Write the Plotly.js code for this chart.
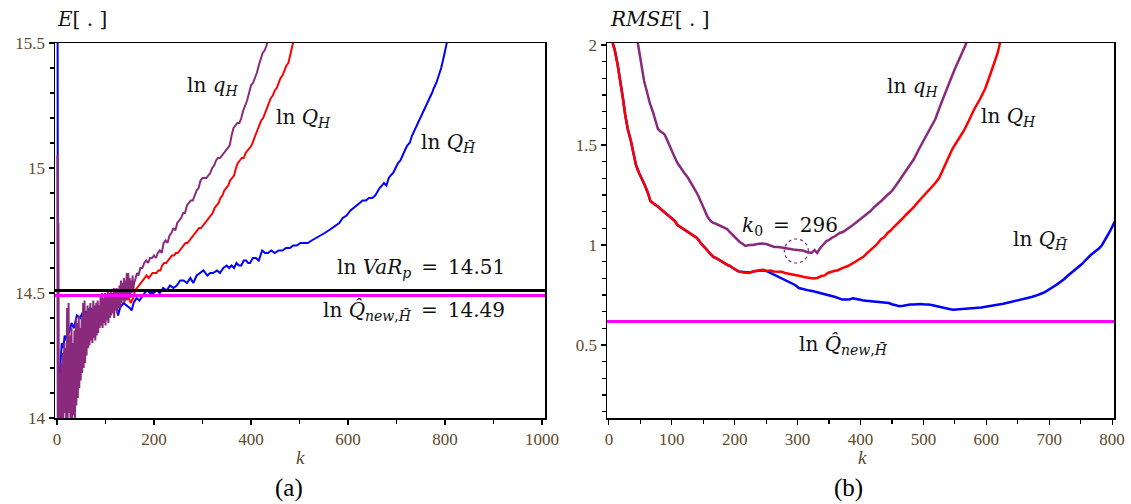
<!DOCTYPE html>
<html>
<head>
<meta charset="utf-8">
<script src="https://cdn.plot.ly/plotly-3.0.1.min.js"></script>
<style>html,body{margin:0;padding:0;background:#fff;}#chart{width:1131px;height:504px;}</style>
</head>
<body>
<div id="chart"></div>
<script>
// ---------- Panel (a): E[.] versus k ----------
const kA_Qbar = [1,2,4,7,10,13,16,19,22,25,30,35,41,48,55,61,68,75,82,90,97,103,110,117,123,126,130,137,144,150,154,158,164,170,177,185,192,199,206,212,219,226,233,240,247,254,261,268,275,281,288,295,302,310,316,322,330,336,343,350,355,360,365,370,375,380,385,390,394,398,404,410,416,423,429,435,442,449,457,465,472,480,487,494,502,510,517,525,535,545,552,560,567,575,582,589,597,605,612,618,624,630,637,643,650,656,661,665,670,674,679,684,688,693,698,703,708,712,717,722,727,732,737,742,747,752,757,762,767,773,777,782,787,792,798,803,810];
const eA_Qbar = [16.5,13.9,14.12,14.24,14.30,14.28,14.33,14.31,14.35,14.34,14.38,14.36,14.41,14.40,14.43,14.42,14.44,14.43,14.45,14.44,14.46,14.46,14.45,14.47,14.45,14.41,14.44,14.46,14.45,14.44,14.43,14.46,14.48,14.47,14.49,14.51,14.50,14.50,14.51,14.50,14.52,14.51,14.53,14.52,14.53,14.55,14.55,14.54,14.56,14.54,14.57,14.58,14.59,14.57,14.58,14.58,14.59,14.58,14.60,14.61,14.60,14.61,14.60,14.62,14.61,14.61,14.63,14.63,14.62,14.62,14.64,14.64,14.63,14.67,14.66,14.66,14.67,14.66,14.67,14.67,14.68,14.68,14.69,14.69,14.70,14.70,14.70,14.71,14.72,14.73,14.74,14.75,14.76,14.77,14.78,14.80,14.81,14.83,14.84,14.85,14.86,14.87,14.87,14.88,14.88,14.89,14.91,14.92,14.93,14.94,14.93,14.96,14.97,14.98,15.00,15.02,15.03,15.05,15.07,15.09,15.10,15.13,15.15,15.17,15.19,15.21,15.23,15.25,15.27,15.30,15.32,15.34,15.37,15.40,15.45,15.50,15.56];

const kA_QH = [3,6,9,12,15,18,21,25,29,33,37,41,46,51,56,61,66,71,76,82,88,93,99,104,110,116,122,128,134,140,146,152,157,161,165,169,173,177,181,185,189,193,197,201,205,209,213,217,221,225,229,233,237,241,245,249,253,257,261,265,269,273,277,281,285,289,293,297,301,305,309,313,317,321,325,329,333,337,341,345,349,353,357,361,365,369,373,377,381,385,389,393,397,401,405,409,413,417,421,425,429,433,437,441,445,449,453,457,461,465,469,473,477,481,485,489];
const eA_QH = [13.98,14.15,14.02,14.20,14.05,14.24,14.08,14.30,14.10,14.28,14.06,14.33,14.18,14.36,14.24,14.40,14.30,14.41,14.32,14.43,14.43,14.38,14.46,14.40,14.48,14.42,14.49,14.44,14.50,14.47,14.49,14.46,14.48,14.51,14.52,14.53,14.54,14.55,14.56,14.57,14.56,14.57,14.58,14.58,14.58,14.59,14.59,14.61,14.62,14.62,14.63,14.64,14.65,14.65,14.66,14.66,14.67,14.68,14.69,14.70,14.70,14.71,14.72,14.73,14.74,14.75,14.76,14.76,14.77,14.78,14.79,14.80,14.81,14.82,14.84,14.85,14.86,14.88,14.89,14.91,14.92,14.93,14.95,14.96,14.97,15.00,15.02,15.03,15.04,15.04,15.06,15.07,15.08,15.09,15.11,15.13,15.15,15.17,15.19,15.20,15.22,15.24,15.26,15.28,15.29,15.31,15.32,15.34,15.36,15.37,15.39,15.41,15.42,15.45,15.48,15.52];

const kA_qH = [1,2,3,4,6,7,9,10,12,13,15,16,18,19,21,22,24,25,27,28,30,31,33,34,36,37,39,40,42,43,45,46,48,49,51,52,54,55,57,58,60,61,63,64,66,67,69,70,72,73,75,76,78,79,81,82,84,85,87,88,90,91,93,94,96,97,99,100,102,103,105,106,108,109,111,112,114,115,117,118,120,121,123,124,126,127,129,130,132,133,135,136,138,139,141,142,144,145,147,148,150,151,153,154,156,157,159,161,165,168,172,176,180,184,188,192,196,200,204,208,212,216,220,224,228,232,236,240,244,248,252,256,260,264,268,272,276,280,284,288,292,296,300,304,308,312,316,320,324,328,332,336,340,344,348,352,356,360,364,368,372,376,380,384,388,392,396,400,404,408,412,416,420,424,428,432,436];
const eA_qH = [15.05,13.98,14.78,13.98,14.18,13.98,14.22,13.98,14.26,13.98,14.30,14.02,14.28,13.98,14.44,13.98,14.46,14.02,14.33,13.98,14.36,13.98,14.30,14.01,14.35,13.98,14.40,14.05,14.38,14.08,14.41,14.12,14.36,14.15,14.40,14.18,14.46,14.20,14.47,14.22,14.42,14.25,14.45,14.28,14.44,14.29,14.46,14.31,14.43,14.30,14.47,14.32,14.45,14.31,14.46,14.33,14.47,14.34,14.45,14.36,14.49,14.37,14.50,14.36,14.48,14.38,14.50,14.37,14.49,14.39,14.51,14.38,14.50,14.40,14.51,14.41,14.50,14.42,14.52,14.40,14.51,14.43,14.52,14.42,14.51,14.45,14.53,14.44,14.55,14.46,14.54,14.47,14.56,14.46,14.55,14.48,14.58,14.47,14.58,14.49,14.56,14.48,14.55,14.50,14.57,14.51,14.54,14.55,14.58,14.57,14.60,14.60,14.62,14.63,14.62,14.64,14.64,14.65,14.64,14.66,14.67,14.66,14.70,14.71,14.70,14.73,14.74,14.76,14.75,14.78,14.79,14.80,14.82,14.82,14.85,14.86,14.87,14.87,14.89,14.91,14.92,14.95,14.96,14.96,14.96,14.97,14.98,15.00,15.01,15.03,15.04,15.04,15.05,15.06,15.07,15.08,15.09,15.13,15.16,15.17,15.18,15.18,15.20,15.23,15.25,15.27,15.30,15.33,15.34,15.36,15.38,15.41,15.44,15.46,15.47,15.49,15.52];

const lnVaRp = 14.51;
const lnQnewA = 14.49;

// ---------- Panel (b): RMSE[.] versus k ----------
const kB_QH = [6,9,14,18,22,26,30,35,39,43,48,52,57,62,66,72,79,86,93,100,105,109,116,120,124,128,132,136,140,146,152,158,166,170,175,182,189,193,197,206,214,223,230,238,245,252,257,262,270,275,280,290,296,302,310,319,325,331,338,343,348,358,364,371,380,388,396,405,410,416,420,425,433,438,443,448,453,460,466,472,479,485,490,496,502,508,513,519,525,533,541,546,552,558,564,572,581,590,598,606,613,618,621,625];
const rB_QH = [2.01,1.98,1.90,1.83,1.74,1.65,1.58,1.52,1.46,1.40,1.36,1.335,1.30,1.26,1.22,1.205,1.19,1.17,1.15,1.13,1.12,1.10,1.085,1.08,1.07,1.062,1.055,1.045,1.035,1.01,0.99,0.965,0.94,0.935,0.925,0.91,0.90,0.895,0.885,0.868,0.862,0.86,0.868,0.872,0.876,0.87,0.872,0.868,0.865,0.866,0.86,0.855,0.852,0.846,0.84,0.835,0.832,0.835,0.845,0.848,0.86,0.87,0.874,0.884,0.895,0.909,0.925,0.942,0.958,0.975,0.985,1.0,1.03,1.04,1.06,1.072,1.09,1.11,1.13,1.15,1.17,1.19,1.21,1.23,1.25,1.27,1.29,1.31,1.335,1.39,1.45,1.48,1.51,1.54,1.57,1.62,1.68,1.73,1.78,1.85,1.91,1.96,2.0,2.05];

const kB_Qbar = [6,9,14,18,22,26,30,35,39,43,48,52,57,62,66,72,79,86,93,100,105,109,116,120,124,128,132,136,140,146,152,158,166,170,175,182,189,193,197,206,214,223,232,245,252,257,262,268,274,280,285,290,296,302,308,313,319,325,331,337,342,348,354,360,366,371,377,382,388,394,400,405,411,416,422,428,433,439,445,450,456,462,468,473,479,485,490,496,502,508,513,519,525,530,536,541,547,553,558,564,570,576,581,587,592,598,604,610,615,621,627,632,638,644,650,655,661,667,672,678,684,690,695,700,706,712,718,724,729,735,740,746,752,758,762,766,772,776,780,784,788,792,796,800,803,808];
const rB_Qbar = [2.01,1.98,1.90,1.83,1.74,1.65,1.58,1.52,1.46,1.40,1.36,1.335,1.30,1.26,1.22,1.205,1.19,1.17,1.15,1.13,1.12,1.10,1.085,1.08,1.07,1.062,1.055,1.045,1.035,1.01,0.99,0.965,0.94,0.935,0.925,0.91,0.90,0.895,0.885,0.868,0.865,0.862,0.87,0.873,0.868,0.86,0.852,0.845,0.835,0.826,0.818,0.81,0.80,0.785,0.78,0.775,0.772,0.769,0.764,0.76,0.756,0.752,0.745,0.74,0.733,0.727,0.728,0.728,0.733,0.731,0.726,0.722,0.72,0.719,0.72,0.716,0.715,0.714,0.71,0.704,0.698,0.694,0.696,0.70,0.702,0.703,0.704,0.705,0.702,0.703,0.70,0.695,0.69,0.686,0.682,0.68,0.676,0.678,0.677,0.68,0.682,0.683,0.685,0.686,0.687,0.69,0.692,0.697,0.70,0.703,0.706,0.71,0.714,0.719,0.722,0.727,0.73,0.736,0.74,0.746,0.752,0.76,0.768,0.78,0.79,0.802,0.815,0.83,0.845,0.86,0.875,0.89,0.905,0.925,0.94,0.95,0.965,0.975,0.985,1.0,1.02,1.04,1.065,1.09,1.11,1.13,1.16];

const kB_qH = [46,49,52,56,61,65,70,74,78,83,86,89,93,96,103,109,115,120,126,130,134,139,143,150,157,162,166,171,175,183,188,192,200,208,213,217,223,229,236,243,250,257,263,270,278,285,293,300,308,315,322,327,331,336,342,346,350,354,360,367,372,377,383,388,394,402,411,416,422,428,433,441,450,459,468,476,485,493,502,510,519,526,533,541,550,558,567,572];
const rB_qH = [2.01,1.95,1.88,1.82,1.76,1.71,1.665,1.62,1.58,1.565,1.56,1.55,1.52,1.50,1.45,1.41,1.38,1.36,1.335,1.315,1.29,1.265,1.24,1.19,1.14,1.12,1.11,1.105,1.10,1.09,1.08,1.065,1.04,1.015,1.005,0.995,1.0,1.0,1.005,1.008,1.005,0.998,0.99,0.99,0.985,0.98,0.978,0.975,0.972,0.965,0.96,0.975,0.96,0.985,1.005,1.02,1.025,1.035,1.045,1.06,1.065,1.075,1.09,1.10,1.115,1.135,1.155,1.17,1.19,1.205,1.22,1.245,1.27,1.31,1.35,1.39,1.43,1.48,1.53,1.58,1.63,1.69,1.75,1.81,1.88,1.94,2.0,2.05];

const lnQnewB = 0.617;
const k0 = 296;
const k0Rmse = 0.97;

// ---------- styling ----------
const RED = '#ff0000', BLUE = '#0000ff', PURPLE = '#8a2a7c', MAGENTA = '#ff00ff';
const TICKCOL = '#5e4a2c';
const SERIF = "'Liberation Serif', 'Times New Roman', Times, serif";
const MATHFONT = "'DejaVu Serif', serif";
const TICKFONT = {family: SERIF, size: 17, color: TICKCOL};
const W = 1131, H = 504;
const px = x => x / W, py = y => 1 - y / H;

const traces = [
  {x: kA_QH, y: eA_QH, xaxis: 'x', yaxis: 'y', mode: 'lines', line: {color: RED, width: 2}},
  {x: kA_Qbar, y: eA_Qbar, xaxis: 'x', yaxis: 'y', mode: 'lines', line: {color: BLUE, width: 2}},
  {x: kA_qH, y: eA_qH, xaxis: 'x', yaxis: 'y', mode: 'lines', line: {color: PURPLE, width: 2}},
  {x: kB_Qbar, y: rB_Qbar, xaxis: 'x2', yaxis: 'y2', mode: 'lines', line: {color: BLUE, width: 2.5}},
  {x: kB_QH, y: rB_QH, xaxis: 'x2', yaxis: 'y2', mode: 'lines', line: {color: RED, width: 2.5}},
  {x: kB_qH, y: rB_qH, xaxis: 'x2', yaxis: 'y2', mode: 'lines', line: {color: PURPLE, width: 2.5}}
];

const axBase = {
  showgrid: false, zeroline: false, showline: true, mirror: true,
  linecolor: '#000', linewidth: 1.5, ticks: 'outside', ticklen: 5, tickwidth: 1.2,
  tickcolor: '#000', tickfont: TICKFONT
};

const yDom = [py(418), py(43)];

const layout = {
  width: W, height: H, margin: {l: 0, r: 0, t: 0, b: 0},
  paper_bgcolor: '#fff', plot_bgcolor: '#fff', showlegend: false,
  font: {family: SERIF},
  xaxis: Object.assign({}, axBase, {domain: [px(55), px(545)], range: [-4, 1006], tickvals: [0,200,400,600,800,1000],
    minor: {ticks: 'outside', ticklen: 4, dtick: 100, tick0: 0, tickcolor: '#000', showgrid: false}, anchor: 'y'}),
  yaxis: Object.assign({}, axBase, {domain: yDom, range: [14, 15.5], tickvals: [14, 14.5, 15, 15.5],
    ticktext: ['14', '14.5', '15', '15.5'],
    minor: {ticks: 'outside', ticklen: 4, dtick: 0.1, tick0: 14, tickcolor: '#000', showgrid: false}, anchor: 'x'}),
  xaxis2: Object.assign({}, axBase, {domain: [px(607), px(1114)], range: [-3, 803], tickvals: [0,100,200,300,400,500,600,700,800],
    minor: {ticks: 'outside', ticklen: 4, dtick: 50, tick0: 0, tickcolor: '#000', showgrid: false}, anchor: 'y2'}),
  yaxis2: Object.assign({}, axBase, {domain: yDom, range: [0.135, 2.01], tickvals: [0.5, 1, 1.5, 2],
    ticktext: ['0.5', '1', '1.5', '2'],
    minor: {ticks: 'outside', ticklen: 4, dtick: 0.5 / 6, tick0: 0, tickcolor: '#000', showgrid: false}, anchor: 'x2'}),
  shapes: [
    {type: 'line', xref: 'x domain', yref: 'y', x0: 0, x1: 1, y0: lnVaRp, y1: lnVaRp, line: {color: '#000', width: 3}, layer: 'above'},
    {type: 'line', xref: 'x domain', yref: 'y', x0: 0, x1: 1, y0: lnQnewA, y1: lnQnewA, line: {color: MAGENTA, width: 3}, layer: 'above'},
    {type: 'line', xref: 'x2 domain', yref: 'y2', x0: 0, x1: 1, y0: lnQnewB, y1: lnQnewB, line: {color: MAGENTA, width: 3}, layer: 'above'},
    {type: 'circle', xref: 'x2', yref: 'y2', xsizemode: 'pixel', ysizemode: 'pixel', xanchor: k0 + 2, yanchor: k0Rmse,
      x0: -12, x1: 12, y0: -12, y1: 12, line: {color: PURPLE, width: 1.2, dash: 'dot'}, layer: 'above'}
  ],
  annotations: []
};

const HB = 'H\u0304';
const QH = 'Q\u0302';
function ann(text, x, y, opts) {
  layout.annotations.push(Object.assign({
    text: text, xref: 'paper', yref: 'paper', x: px(x), y: py(y), showarrow: false,
    xanchor: 'center', yanchor: 'middle', font: {family: MATHFONT, size: 20, color: '#111'}
  }, opts || {}));
}
// titles
ann('<i>E</i>[ . ]', 55, 19, {xanchor: 'left'});
ann('<i>RMSE</i>[ . ]', 608, 19, {xanchor: 'left'});
// panel (a) labels
ann('ln <i>q</i><sub><i>H</i></sub>', 212, 86);
ann('ln <i>Q</i><sub><i>H</i></sub>', 303, 118);
ann('ln <i>Q</i><sub><i>' + HB + '</i></sub>', 448, 143);
ann('ln <i>VaR</i><sub><i>p</i></sub>\u2002=\u2002' + lnVaRp.toFixed(2), 507, 268, {xanchor: 'right'});
ann('ln <i>' + QH + '</i><sub><i>new</i>,<i>' + HB + '</i></sub>\u2002=\u2002' + lnQnewA.toFixed(2), 507, 311, {xanchor: 'right'});
// panel (b) labels
ann('ln <i>q</i><sub><i>H</i></sub>', 912, 87);
ann('ln <i>Q</i><sub><i>H</i></sub>', 1008, 117);
ann('ln <i>Q</i><sub><i>' + HB + '</i></sub>', 1040, 240);
ann('<i>k</i><sub>0</sub>\u2002=\u2002' + k0, 790, 226);
ann('ln <i>' + QH + '</i><sub><i>new</i>,<i>' + HB + '</i></sub>', 843, 345);
// axis titles and panel captions
ann('<i>k</i>', 300, 457, {font: {family: SERIF, size: 19, color: TICKCOL}});
ann('<i>k</i>', 862, 457, {font: {family: SERIF, size: 19, color: TICKCOL}});
ann('(a)', 289, 488, {font: {family: SERIF, size: 25, color: '#000'}});
ann('(b)', 848, 488, {font: {family: SERIF, size: 25, color: '#000'}});

Plotly.newPlot('chart', traces, layout, {staticPlot: true, displayModeBar: false});
</script>
</body>
</html>
